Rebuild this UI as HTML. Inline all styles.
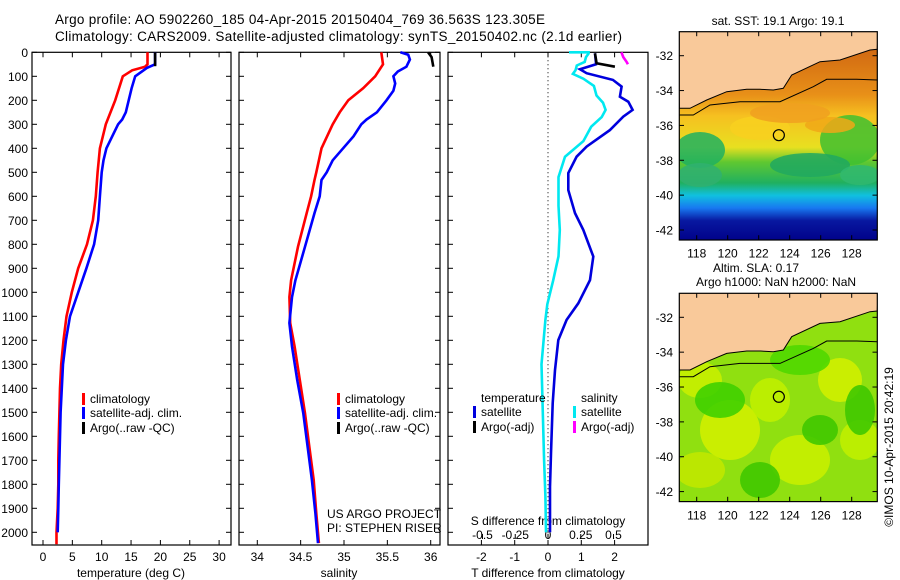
<!DOCTYPE html>
<html><head><meta charset="utf-8"><style>
html,body{margin:0;padding:0;background:#fff;}
svg{display:block;font-family:"Liberation Sans",sans-serif;}
</style></head><body>
<svg id="c" width="900" height="580" viewBox="0 0 900 580" xmlns="http://www.w3.org/2000/svg">
<defs>
<clipPath id="cm1"><rect x="679.3" y="31.7" width="198" height="208.3"/></clipPath>
<clipPath id="cm2"><rect x="679.3" y="293.3" width="198" height="208.4"/></clipPath>
<linearGradient id="sstg" x1="0" y1="0" x2="0" y2="1">
<stop offset="0" stop-color="#c85a10"/><stop offset="0.3" stop-color="#e89018"/><stop offset="0.4" stop-color="#f6c020"/>
<stop offset="0.55" stop-color="#e8e020"/><stop offset="0.62" stop-color="#60c830"/><stop offset="0.72" stop-color="#20b060"/>
<stop offset="0.78" stop-color="#10c0e0"/><stop offset="0.84" stop-color="#1878f0"/><stop offset="0.9" stop-color="#0818a0"/><stop offset="1" stop-color="#000088"/>
</linearGradient>
</defs>
<text x="55" y="24" font-size="13.5" textLength="490">Argo profile: AO 5902260_185 04-Apr-2015 20150404_769 36.563S 123.305E</text>
<text x="55" y="41" font-size="13.5" textLength="567">Climatology: CARS2009. Satellite-adjusted climatology: synTS_20150402.nc (2.1d earlier)</text>
<g id="g"></g>
</svg>
<script>
// ---- data ----
const depthTicks=[0,100,200,300,400,500,600,700,800,900,1000,1100,1200,1300,1400,1500,1600,1700,1800,1900,2000];
const tTicks=[0,5,10,15,20,25,30];
const sTicks=[34,34.5,35,35.5,36];
const dTTicks=[-2,-1,0,1,2];
const dSTicks=[-0.5,-0.25,0,0.25,0.5];
const dSTickLabels=["-0.5","-0.25","0","0.25","0.5"];
const tClimDepth=[0,50,60,75,100,200,300,400,500,600,700,800,900,1000,1100,1200,1300,1400,1500,1600,1700,1800,1900,2000,2050];
const tClim=[17.8,17.8,17.4,15.2,13.6,12.3,10.7,9.7,9.3,9.0,8.5,7.5,6.0,4.9,4.0,3.5,3.1,2.9,2.8,2.7,2.6,2.6,2.5,2.3,2.3];
const tSatDepth=[0,50,65,100,150,200,250,280,300,400,450,500,600,700,800,900,1000,1100,1200,1300,1400,1500,1600,1700,1800,1900,2000];
const tSat=[19.1,19.1,17.7,15.7,15.1,14.6,14.1,13.5,12.8,10.8,10.3,10.0,9.7,9.4,8.7,7.4,6.0,4.6,3.9,3.4,3.2,3.0,2.9,2.8,2.7,2.6,2.5];
const tArgoDepth=[0,58];
const tArgo=[19.1,19.1];
const sClimDepth=[0,50,100,150,200,250,300,400,500,532,600,670,810,950,1020,1128,1226,1365,1504,1643,1782,1921,2045];
const sClim=[35.43,35.45,35.36,35.22,35.05,34.95,34.87,34.74,34.68,34.66,34.62,34.57,34.47,34.39,34.37,34.38,34.43,34.49,34.55,34.60,34.65,34.68,34.71];
const sSatDepth=[0,10,30,60,80,100,130,160,200,250,280,300,350,400,450,500,532,600,670,810,950,1020,1128,1226,1365,1504,1643,1782,1921,2045];
const sSat=[35.65,35.74,35.76,35.72,35.62,35.57,35.59,35.57,35.49,35.38,35.26,35.20,35.11,34.99,34.87,34.80,34.74,34.72,34.66,34.55,34.44,34.40,34.37,34.40,34.46,34.53,34.58,34.63,34.67,34.70];
const sArgoDepth=[0,20,60];
const sArgo=[35.97,36.01,36.03];
const dTDepth=[4,46,50,71,87,115,143,185,206,240,268,324,393,435,503,574,670,740,851,949,1046,1115,1199,1324,1462,1670,1810,2000];
const dTSat=[1.41,1.44,1.44,0.96,1.16,1.95,2.21,2.16,2.41,2.54,2.26,1.86,1.16,0.86,0.61,0.61,0.81,1.06,1.36,1.26,0.91,0.56,0.31,0.21,0.14,0.09,0.06,0.06];
const dTArgoDepth=[4,46,60];
const dTArgo=[1.41,1.46,2.01];
const dSDepth=[0,0,5,20,40,55,75,90,110,140,180,210,240,270,310,370,435,520,640,740,850,950,1050,1115,1300,1500,1700,1850,2000];
const dSSat=[0.16,0.31,0.31,0.29,0.28,0.22,0.21,0.19,0.27,0.35,0.37,0.42,0.44,0.41,0.33,0.27,0.13,0.08,0.08,0.09,0.08,0.04,-0.005,-0.02,-0.05,-0.04,-0.03,-0.02,-0.015];
const dSArgoDepth=[0,20,40,50];
const dSArgo=[0.56,0.575,0.6,0.61];
const mapLatTicks=[-32,-34,-36,-38,-40,-42];
const mapLonTicks=[118,120,122,124,126,128];
const argoLon=123.3, argoLat=-36.56;

// ---- scales ----
const yD=d=>52.3+0.24*d;
const xT=t=>43+5.87*t;
const xS=s=>257.3+86.7*(s-34);
const xDT=v=>548+33.3*v;
const xDS=v=>548+131*v;
const lonX=l=>696.7+15.5*(l-118);
const latY1=a=>55.7+17.43*(-32-a);
const latY2=a=>317.3+17.43*(-32-a);

const NS="http://www.w3.org/2000/svg";
const G=document.getElementById('g');
function mk(tag,at,parent){const e=document.createElementNS(NS,tag);for(const k in at)e.setAttribute(k,at[k]);(parent||G).appendChild(e);return e;}
function txt(x,y,s,anchor,size,parent){const e=mk('text',{x:x,y:y,'font-size':size||12,'text-anchor':anchor||'start'},parent);e.textContent=s;return e;}
function line(xs,ds,fx,col,w){let p='';for(let i=0;i<xs.length;i++)p+=(i?'L':'M')+fx(xs[i]).toFixed(1)+' '+yD(ds[i]).toFixed(1);return mk('path',{d:p,fill:'none',stroke:col,'stroke-width':w||2.6});}

const T=545, TOP=52.3;
const panels=[[32,231],[239,440],[448,648]];
panels.forEach((p,i)=>{
  const r=mk('rect',{x:p[0],y:TOP,width:p[1]-p[0],height:T-TOP,fill:'none',stroke:'#000','stroke-width':1.2});
  
  
  depthTicks.forEach(d=>{mk('line',{x1:p[0],x2:p[0]+5,y1:yD(d),y2:yD(d),stroke:'#000'});if(i<2)mk('line',{x1:p[1],x2:p[1]-5,y1:yD(d),y2:yD(d),stroke:'#000'});});
});
depthTicks.forEach(d=>{const e=txt(28,yD(d)+4.5,String(d),'end');});
tTicks.forEach(t=>{mk('line',{x1:xT(t),x2:xT(t),y1:T,y2:T-5,stroke:'#000'});mk('line',{x1:xT(t),x2:xT(t),y1:TOP,y2:TOP+5,stroke:'#000'});const e=txt(xT(t),561,String(t),'middle');});
sTicks.forEach(s=>{mk('line',{x1:xS(s),x2:xS(s),y1:T,y2:T-5,stroke:'#000'});mk('line',{x1:xS(s),x2:xS(s),y1:TOP,y2:TOP+5,stroke:'#000'});const e=txt(xS(s),561,String(s),'middle');});
dTTicks.forEach(v=>{mk('line',{x1:xDT(v),x2:xDT(v),y1:T,y2:T-5,stroke:'#000'});mk('line',{x1:xDT(v),x2:xDT(v),y1:TOP,y2:TOP+5,stroke:'#000'});const e=txt(xDT(v),561,String(v),'middle');});
dSTicks.forEach((v,i)=>{mk('line',{x1:xDS(v),x2:xDS(v),y1:539,y2:534,stroke:'#000'});const e=txt(xDS(v),539,dSTickLabels[i],'middle');});
mk('line',{x1:548,x2:548,y1:TOP,y2:T,stroke:'#000','stroke-dasharray':'1 3'});

let e;
e=txt(131,577,'temperature (deg C)','middle');
e=txt(339,577,'salinity','middle');
e=txt(548,577,'T difference from climatology','middle');
e=txt(548,525,'S difference from climatology','middle');

// series
e=line(tClim,tClimDepth,xT,'#ff0000');
e=line(tSat,tSatDepth,xT,'#0000ff');
e=line(tArgo,tArgoDepth,xT,'#000');
e=line(sClim,sClimDepth,xS,'#ff0000');
e=line(sSat,sSatDepth,xS,'#0000ff');
e=line(sArgo,sArgoDepth,xS,'#000');
e=line(dSSat,dSDepth,xDS,'#00e8f0');
e=line(dTSat,dTDepth,xDT,'#0000dd');
e=line(dTArgo,dTArgoDepth,xDT,'#000');
e=line(dSArgo,dSArgoDepth,xDS,'#ff00ff');

// legends
function leg(x,y,col,label,name){const g=mk('g',{});mk('rect',{x:x,y:y-10,width:3,height:12,fill:col},g);txt(x+8,y,label,'start',12,g);}
leg(82,403,'#ff0000','climatology','legend-temp-climatology');
leg(82,417,'#0000ff','satellite-adj. clim.','legend-temp-satellite');
leg(82,432,'#000','Argo(..raw -QC)','legend-temp-argo');
leg(337,403,'#ff0000','climatology','legend-sal-climatology');
leg(337,417,'#0000ff','satellite-adj. clim.','legend-sal-satellite');
leg(337,432,'#000','Argo(..raw -QC)','legend-sal-argo');
e=txt(481,402,'temperature');
e=txt(581,402,'salinity');
leg(473,416,'#0000dd','satellite','legend-tdiff-satellite');
leg(473,431,'#000','Argo(-adj)','legend-tdiff-argo');
leg(573,416,'#00e8f0','satellite','legend-sdiff-satellite');
leg(573,431,'#ff00ff','Argo(-adj)','legend-sdiff-argo');
e=txt(327,518,'US ARGO PROJECT');
e=txt(327,532,'PI: STEPHEN RISER');

// maps
const coast=[[118,325],[150,325],[200,300],[260,275],[320,268],[360,268],[400,270],[430,265],[455,225],[540,185],[600,180],[690,150],[712,148]];
const iso=[[118,345],[160,345],[210,315],[300,305],[420,305],[520,260],[560,238],[650,238],[712,240]];
function mp(pts,dy){return pts.map((p,i)=>(i?'L':'M')+(640+p[0]/3).toFixed(1)+' '+(p[1]/3+dy).toFixed(1)).join('');}
function map(y0,which){
  const g=mk('g',{'clip-path':'url(#cm'+which+')'});
  
  
  if(which==1){
    mk('rect',{x:679,y:y0,width:200,height:210,fill:'url(#sstg)'},g);
    [[700,150,25,18,'#20b060'],[850,140,30,25,'#40c030'],[700,175,22,12,'#30b070'],[810,165,40,12,'#20a860'],[860,175,20,10,'#30b870'],[760,128,30,12,'#f8d020'],[830,125,25,8,'#f0a818'],[790,113,40,10,'#f0a020']].forEach(b=>mk('ellipse',{cx:b[0],cy:b[1],rx:b[2],ry:b[3],fill:b[4],opacity:0.85},g));
  } else {
    mk('rect',{x:679,y:y0,width:200,height:210,fill:'#90e010'},g);
    [[700,380,22,18,'#c8f000'],[730,430,30,30,'#d0f000'],[770,400,20,22,'#c0f000'],[840,380,22,22,'#d0f000'],[700,470,25,18,'#c0e800'],[800,460,30,25,'#c8f000'],[860,440,20,20,'#c0f000'],[720,400,25,18,'#40d000'],[800,360,30,15,'#50d800'],[860,410,15,25,'#40c800'],[760,480,20,18,'#40c800'],[820,430,18,15,'#40c800']].forEach(b=>mk('ellipse',{cx:b[0],cy:b[1],rx:b[2],ry:b[3],fill:b[4],opacity:0.9},g));
  }
  const dy=which==1?0:261.7;
  mk('path',{d:mp(coast,dy)+'L878 '+(y0-2)+'L678 '+(y0-2)+'Z',fill:'#f9c99a',stroke:'#000','stroke-width':1},g);
  mk('path',{d:mp(iso,dy),fill:'none',stroke:'#000','stroke-width':1},g);
  const ly=which==1?latY1:latY2;
  mk('circle',{cx:lonX(argoLon),cy:ly(argoLat),r:5.5,fill:'none',stroke:'#000','stroke-width':1.2});
  mk('rect',{x:679.3,y:y0,width:198,height:208.3,fill:'none',stroke:'#000','stroke-width':1.2});
  mapLatTicks.forEach(a=>{mk('line',{x1:679.3,x2:684,y1:ly(a),y2:ly(a),stroke:'#000'});mk('line',{x1:877.3,x2:872.5,y1:ly(a),y2:ly(a),stroke:'#000'});const t=txt(673,ly(a)+4.5,String(a),'end');});
  mapLonTicks.forEach(l=>{mk('line',{x1:lonX(l),x2:lonX(l),y1:y0+208.3,y2:y0+203.5,stroke:'#000'});mk('line',{x1:lonX(l),x2:lonX(l),y1:y0,y2:y0+4.5,stroke:'#000'});const t=txt(lonX(l),y0+226,String(l),'middle');});
}
map(31.7,1);map(293.3,2);
e=txt(778,25,'sat. SST: 19.1  Argo: 19.1','middle');
e=txt(756,272,'Altim. SLA: 0.17','middle');
e=txt(776,286,'Argo h1000: NaN h2000: NaN','middle');
e=txt(0,0,'©IMOS 10-Apr-2015 20:42:19','middle');e.setAttribute('transform','translate(893,447) rotate(-90)');

</script>
</body></html>
